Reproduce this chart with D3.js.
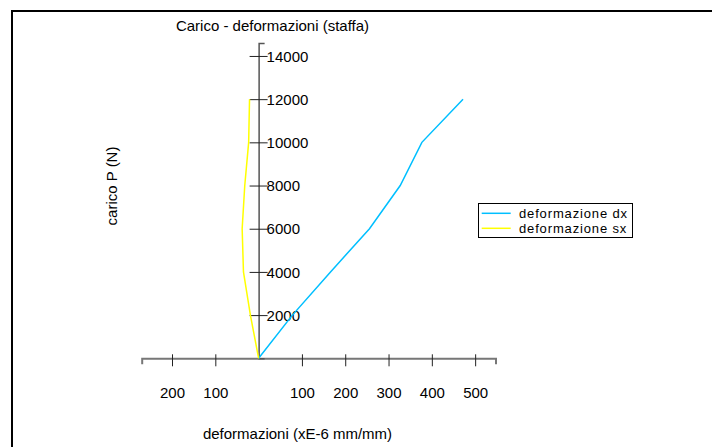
<!DOCTYPE html>
<html><head><meta charset="utf-8">
<script src="https://cdn.jsdelivr.net/npm/d3@7"></script>
<style>body{margin:0;background:#fff}svg{display:block}text{font-family:"Liberation Sans",Arial,sans-serif;fill:#000}</style>
</head><body><svg id="c" width="712" height="447"></svg>
<script>
const loads = [0, 2000, 4000, 6000, 8000, 10000, 12000];
const defDx = [0, 78, 166, 256, 327, 377, 472];
const defSx = [0, -19, -35, -38, -32, -23, -21];
const xTicks = [-200, -100, 100, 200, 300, 400, 500];
const yTicks = [2000, 4000, 6000, 8000, 10000, 12000, 14000];
const seriesNames = ["deformazione dx", "deformazione sx"];
const seriesColors = ["#00bfff", "#ffff00"];
const title = "Carico - deformazioni (staffa)";
const xTitle = "deformazioni (xE-6 mm/mm)";
const yTitle = "carico P (N)";

const svg = d3.select("#c");
const FS = 15;
// border
svg.append("rect").attr("x", 12).attr("y", 11).attr("width", 720).attr("height", 460)
  .attr("fill", "none").attr("stroke", "#000").attr("stroke-width", 2);

const x = d3.scaleLinear().domain([-270, 547]).range([141.7, 495.5]);
const y = d3.scaleLinear().domain([0, 14600]).range([358.3, 43]);

// x axis
const gx = svg.append("g").attr("transform", `translate(0,${y(0)})`)
  .call(d3.axisBottom(x).tickValues(xTicks).tickFormat(d => Math.abs(d)));
gx.select(".domain").attr("stroke", "#777").attr("stroke-width", 2);
gx.selectAll(".tick line").attr("y1", -4).attr("y2", 8).attr("stroke", "#222");
gx.selectAll(".tick text").attr("y", 34.4).attr("dy", "0.35em").attr("font-size", FS)
  .attr("font-family", "Liberation Sans, Arial, sans-serif").attr("fill", "#000");

// y axis
const gy = svg.append("g").attr("transform", `translate(${x(0)},0)`)
  .call(d3.axisRight(y).tickValues(yTicks).tickFormat(d3.format("d")));
gy.select(".domain").attr("stroke", "#555").attr("stroke-width", 1.5);
gy.selectAll(".tick line").attr("x1", -9).attr("x2", 9).attr("stroke", "#222");
gy.selectAll(".tick text").attr("x", 8).attr("dy", "0.35em").attr("font-size", FS)
  .attr("font-family", "Liberation Sans, Arial, sans-serif").attr("fill", "#000");

// lines
const line = d3.line().x(d => x(d[0])).y(d => y(d[1]));
[defDx, defSx].forEach((vals, i) => {
  svg.append("path").datum(vals.map((v, j) => [v, loads[j]]))
    .attr("d", line).attr("fill", "none").attr("stroke", seriesColors[i]).attr("stroke-width", 1.5);
});

// titles
svg.append("text").attr("x", 272.5).attr("y", 26).attr("dy", "0.35em").attr("text-anchor", "middle")
  .attr("font-size", FS).text(title);
svg.append("text").attr("x", 297.5).attr("y", 434).attr("dy", "0.35em").attr("text-anchor", "middle")
  .attr("font-size", FS).text(xTitle);
svg.append("text").attr("transform", "translate(112,186) rotate(-90)").attr("dy", "0.35em")
  .attr("text-anchor", "middle").attr("font-size", FS).text(yTitle);

// legend
const lg = svg.append("g");
lg.append("rect").attr("x", 478.5).attr("y", 203.5).attr("width", 154).attr("height", 34)
  .attr("fill", "#fff").attr("stroke", "#000").attr("stroke-width", 1);
seriesNames.forEach((n, i) => {
  const yy = 213.3 + i * 15;
  lg.append("line").attr("x1", 481.7).attr("x2", 510.7).attr("y1", yy).attr("y2", yy)
    .attr("stroke", seriesColors[i]).attr("stroke-width", 1.5);
  lg.append("text").attr("x", 519).attr("y", yy).attr("dy", "0.35em").attr("font-size", 13)
    .attr("letter-spacing", "0.85px").text(n);
});
</script></body></html>
